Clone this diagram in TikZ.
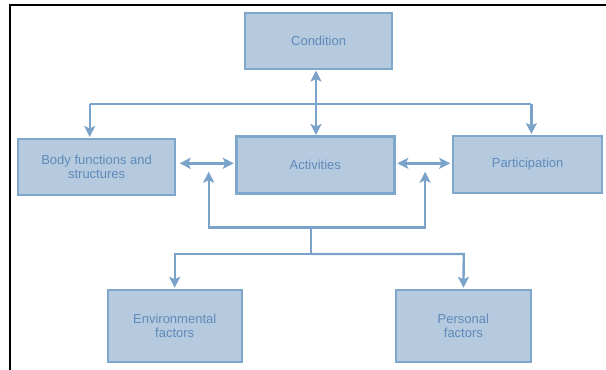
\documentclass[tikz,border=0pt]{standalone}
\usepackage{fontspec}
\setmainfont{Liberation Sans}
\usetikzlibrary{arrows.meta}
\definecolor{boxfill}{HTML}{B5CADF}
\definecolor{boxline}{HTML}{7FA6CB}
\definecolor{boxtext}{HTML}{5F8AB9}
\definecolor{conn}{HTML}{7BA3CA}
\tikzset{
  box/.style={draw=boxline, fill=boxfill, line width=2.4pt, text=boxtext,
    inner sep=0pt, align=center, font=\fontsize{13}{14.5}\selectfont},
  link/.style={draw=conn, line width=2.4pt,
    arrows={-}, >={Stealth[length=11pt,width=11pt,inset=2.5pt]}},
  frame/.style={draw=black, line width=1.8pt}
}
\begin{document}
\begin{tikzpicture}[x=1pt,y=-1pt]
\useasboundingbox (0,0) rectangle (606,370);
\fill[white] (0,0) rectangle (606,370);
% frame
\coordinate (f1) at (9.7,370);
\coordinate (f2) at (9.7,5);
\coordinate (f3) at (606,5);
\draw[frame] (f1) -- (f2) -- (f3);
% boxes
\node[box, minimum width=147pt, minimum height=56pt] (cond) at (318.6,41) {Condition};
\node[box, minimum width=157pt, minimum height=56pt] (body) at (96.6,167) {Body functions and\\structures};
\node[box, minimum width=158pt, minimum height=57pt] (act) at (315.3,165) {Activities};
\node[box, minimum width=149pt, minimum height=57pt] (part) at (527.6,164.2) {Participation};
\node[box, minimum width=134pt, minimum height=72pt] (env) at (174.7,326) {Environmental\\factors};
\node[box, minimum width=135pt, minimum height=72pt] (pers) at (463.4,326) {Personal\\factors};
% condition <-> activities
\coordinate (cs) at (316,70.5);
\coordinate (an) at (316,135);
\draw[link,<->] (cs) -- (an);
% top distribution
\coordinate (tl) at (89.7,104);
\coordinate (tr) at (531.4,104);
\coordinate (tlb) at (89.7,137);
\coordinate (trb) at (531.4,134);
\draw[link,->] (tl) -- (tlb);
\draw[link,->] (tr) -- (trb);
\draw[link] (tl) -- (tr);
% horizontal double arrows
\coordinate (h1) at (179.7,163.3);
\coordinate (h2) at (233.8,163.3);
\coordinate (h3) at (397.3,163.3);
\coordinate (h4) at (450.2,163.3);
\draw[link,<->] (h1) -- (h2);
\draw[link,<->] (h3) -- (h4);
% lower bracket
\coordinate (blt) at (208.7,171.7);
\coordinate (bl) at (208.7,227.3);
\coordinate (br) at (425.1,227.3);
\coordinate (brt) at (425.1,171.7);
\draw[link,<->,line join=miter] (blt) -- (bl) -- (br) -- (brt);
% stem to factors
\coordinate (st) at (311.1,227.3);
\coordinate (sb) at (311.1,254);
\coordinate (el) at (174.7,254);
\coordinate (pr) at (463.8,254);
\draw[link] (st) -- (sb);
\draw[link,->,line join=miter] (sb) -- (el) -- ([yshift=1pt]env.north);
\draw[link,->,line join=miter] (sb) -- (pr) -- ([yshift=1pt]pers.north);
\end{tikzpicture}
\end{document}
